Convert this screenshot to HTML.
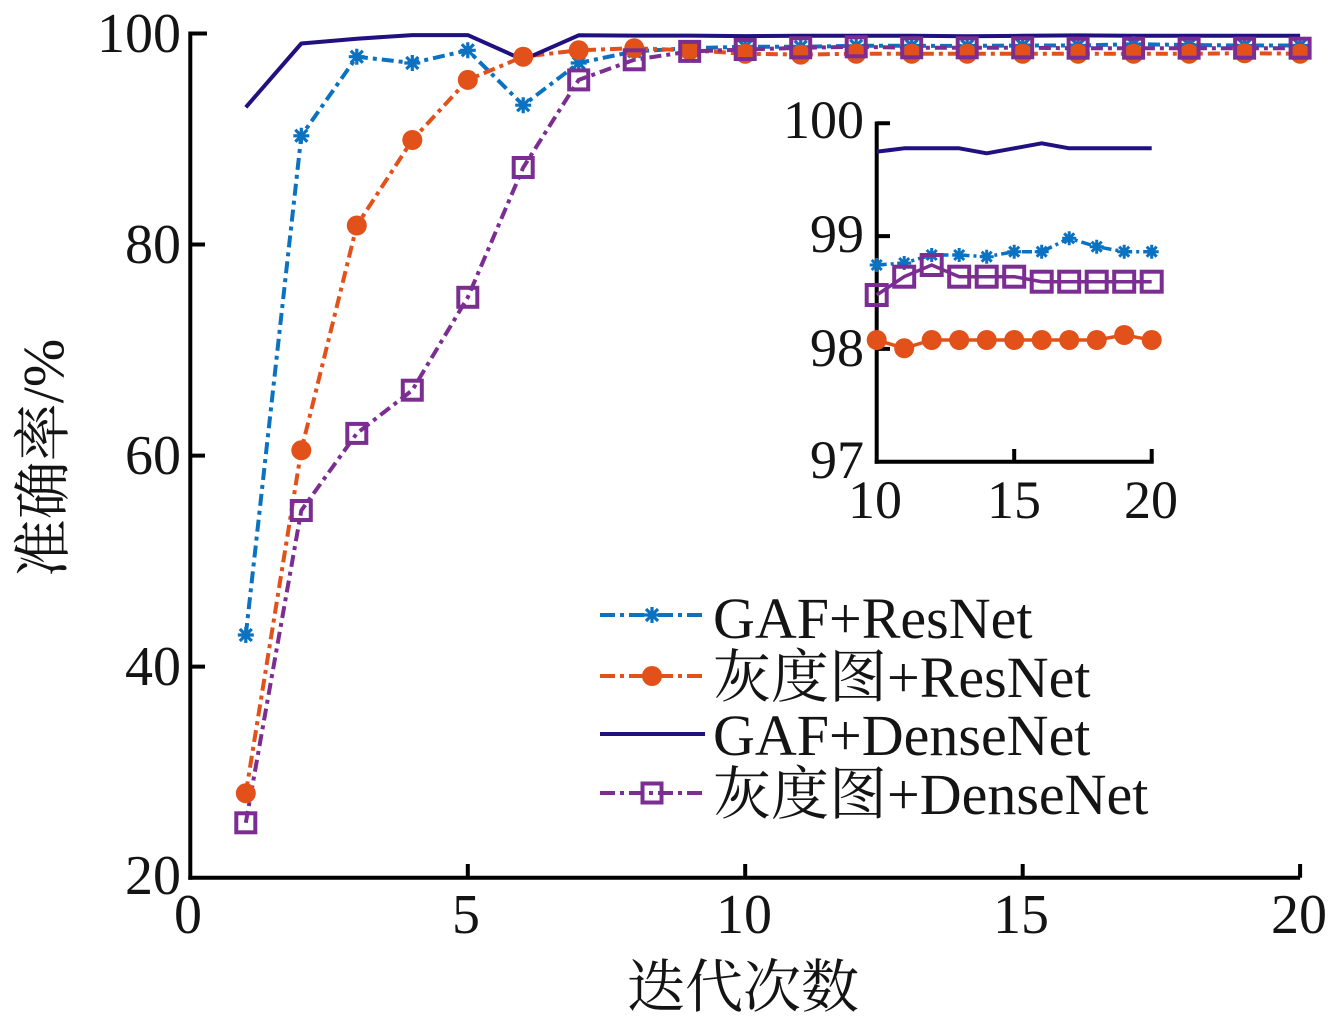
<!DOCTYPE html>
<html>
<head>
<meta charset="utf-8">
<style>
html,body{margin:0;padding:0;background:#fff;}
svg{display:block;}
.t{font-family:"Liberation Serif","Noto Serif CJK SC",serif;fill:#141414;}
</style>
</head>
<body>
<svg width="1339" height="1028" viewBox="0 0 1339 1028" xmlns="http://www.w3.org/2000/svg">
<defs>
  <g id="mb"><path d="M-8 0H8M0 -8V8M-6 -6L6 6M-6 6L6 -6" stroke="#0a72c0" stroke-width="3.2" fill="none"/></g>
  <g id="mbs"><path d="M-7 0H7M0 -7V7M-5 -5L5 5M-5 5L5 -5" stroke="#0a72c0" stroke-width="3" fill="none"/></g>
  <circle id="mo" r="10" fill="#e25119"/>
  <rect id="mp" x="-9.5" y="-9.5" width="19" height="19" fill="none" stroke="#7b2d92" stroke-width="4"/>
  <rect id="mps" x="-10" y="-10" width="20" height="20" fill="none" stroke="#7b2d92" stroke-width="4"/>
</defs>

<!-- Main axes -->
<g stroke="#000" stroke-width="4" fill="none">
  <path d="M190.3 31.5V879.7"/>
  <path d="M188.3 877.7H1300.1"/>
  <path d="M190.3 33.5H207M190.3 244.5H205M190.3 455.6H205M190.3 666.6H205"/>
  <path d="M467.8 877.7V864M745.2 877.7V864M1022.7 877.7V864M1300.1 877.7V864"/>
</g>

<!-- Main tick labels -->
<g class="t" font-size="56" text-anchor="end">
  <text x="181" y="52">100</text>
  <text x="181" y="263">80</text>
  <text x="181" y="474">60</text>
  <text x="181" y="685">40</text>
  <text x="181" y="894">20</text>
</g>
<g class="t" font-size="56" text-anchor="middle">
  <text x="188" y="933">0</text>
  <text x="466" y="933">5</text>
  <text x="744" y="933">10</text>
  <text x="1021" y="933">15</text>
  <text x="1299" y="933">20</text>
</g>

<!-- Axis labels -->
<text class="t" font-size="58" text-anchor="middle" x="743" y="1007">迭代次数</text>
<text class="t" font-size="58" text-anchor="middle" transform="translate(63 458) rotate(-90)">准确率/%</text>

<!-- Main series -->
<polyline fill="none" stroke="#0a72c0" stroke-width="4" stroke-dasharray="12 5 4 5" points="245.8,635.0 301.3,135.8 356.8,56.7 412.3,63.0 467.8,50.3 523.2,105.2 578.7,63.0 634.2,51.4 689.7,48.2 745.2,46.8 800.7,46.8 856.2,45.8 911.7,45.8 967.2,45.9 1022.7,45.5 1078.1,45.5 1133.6,44.2 1189.1,45.0 1244.6,45.5 1300.1,45.5"/>
<polyline fill="none" stroke="#e25119" stroke-width="4" stroke-dasharray="12 5 4 5" points="245.8,793.3 301.3,450.3 356.8,225.5 412.3,140.0 467.8,79.9 523.2,56.7 578.7,50.3 634.2,48.2 689.7,50.3 745.2,53.7 800.7,54.6 856.2,53.7 911.7,53.7 967.2,53.7 1022.7,53.7 1078.1,53.7 1133.6,53.7 1189.1,53.7 1244.6,53.3 1300.1,53.7"/>
<polyline fill="none" stroke="#201080" stroke-width="4" stroke-linejoin="round" points="245.8,107.3 301.3,43.5 356.8,38.7 412.3,35.1 467.8,35.1 523.2,59.8 578.7,35.3 634.2,35.6 689.7,35.6 745.2,36.1 800.7,35.8 856.2,35.8 911.7,35.8 967.2,36.3 1022.7,35.8 1078.1,35.4 1133.6,35.8 1189.1,35.8 1244.6,35.8 1300.1,35.8"/>
<polyline fill="none" stroke="#7b2d92" stroke-width="4" stroke-dasharray="12 5 4 5" points="245.8,822.8 301.3,510.5 356.8,433.4 412.3,390.2 467.8,297.3 523.2,167.5 578.7,79.9 634.2,59.8 689.7,51.4 745.2,49.5 800.7,47.8 856.2,46.8 911.7,47.8 967.2,47.8 1022.7,47.8 1078.1,48.2 1133.6,48.2 1189.1,48.2 1244.6,48.2 1300.1,48.2"/>

<!-- Main markers: blue -->
<g>
<use href="#mb" x="245.8" y="635.0"/><use href="#mb" x="301.3" y="135.8"/><use href="#mb" x="356.8" y="56.7"/><use href="#mb" x="412.3" y="63.0"/><use href="#mb" x="467.8" y="50.3"/><use href="#mb" x="523.2" y="105.2"/><use href="#mb" x="578.7" y="63.0"/><use href="#mb" x="634.2" y="51.4"/><use href="#mb" x="689.7" y="48.2"/><use href="#mb" x="745.2" y="46.8"/><use href="#mb" x="800.7" y="46.8"/><use href="#mb" x="856.2" y="45.8"/><use href="#mb" x="911.7" y="45.8"/><use href="#mb" x="967.2" y="45.9"/><use href="#mb" x="1022.7" y="45.5"/><use href="#mb" x="1078.1" y="45.5"/><use href="#mb" x="1133.6" y="44.2"/><use href="#mb" x="1189.1" y="45.0"/><use href="#mb" x="1244.6" y="45.5"/><use href="#mb" x="1300.1" y="45.5"/>
</g>
<!-- orange -->
<g>
<use href="#mo" x="245.8" y="793.3"/><use href="#mo" x="301.3" y="450.3"/><use href="#mo" x="356.8" y="225.5"/><use href="#mo" x="412.3" y="140.0"/><use href="#mo" x="467.8" y="79.9"/><use href="#mo" x="523.2" y="56.7"/><use href="#mo" x="578.7" y="50.3"/><use href="#mo" x="634.2" y="48.2"/><use href="#mo" x="689.7" y="50.3"/><use href="#mo" x="745.2" y="53.7"/><use href="#mo" x="800.7" y="54.6"/><use href="#mo" x="856.2" y="53.7"/><use href="#mo" x="911.7" y="53.7"/><use href="#mo" x="967.2" y="53.7"/><use href="#mo" x="1022.7" y="53.7"/><use href="#mo" x="1078.1" y="53.7"/><use href="#mo" x="1133.6" y="53.7"/><use href="#mo" x="1189.1" y="53.7"/><use href="#mo" x="1244.6" y="53.3"/><use href="#mo" x="1300.1" y="53.7"/>
</g>
<!-- purple -->
<g>
<use href="#mp" x="245.8" y="822.8"/><use href="#mp" x="301.3" y="510.5"/><use href="#mp" x="356.8" y="433.4"/><use href="#mp" x="412.3" y="390.2"/><use href="#mp" x="467.8" y="297.3"/><use href="#mp" x="523.2" y="167.5"/><use href="#mp" x="578.7" y="79.9"/><use href="#mp" x="634.2" y="59.8"/><use href="#mp" x="689.7" y="51.4"/><use href="#mp" x="745.2" y="49.5"/><use href="#mp" x="800.7" y="47.8"/><use href="#mp" x="856.2" y="46.8"/><use href="#mp" x="911.7" y="47.8"/><use href="#mp" x="967.2" y="47.8"/><use href="#mp" x="1022.7" y="47.8"/><use href="#mp" x="1078.1" y="48.2"/><use href="#mp" x="1133.6" y="48.2"/><use href="#mp" x="1189.1" y="48.2"/><use href="#mp" x="1244.6" y="48.2"/><use href="#mp" x="1300.1" y="48.2"/>
</g>

<!-- Inset axes -->
<g stroke="#000" stroke-width="4" fill="none">
  <path d="M876.7 121.5V463.7"/>
  <path d="M874.7 461.7H1153.7"/>
  <path d="M876.7 123.3H890M876.7 236.1H890M876.7 348.9H890"/>
  <path d="M1014.2 461.7V449M1151.7 461.7V449"/>
</g>
<g class="t" font-size="54" text-anchor="end">
  <text x="864" y="138">100</text>
  <text x="864" y="252">99</text>
  <text x="864" y="366">98</text>
  <text x="864" y="478">97</text>
</g>
<g class="t" font-size="54" text-anchor="middle">
  <text x="875" y="518">10</text>
  <text x="1014" y="518">15</text>
  <text x="1151" y="518">20</text>
</g>

<!-- Inset series -->
<polyline fill="none" stroke="#201080" stroke-width="4" stroke-linejoin="round" points="876.7,151.7 904.2,148.3 931.7,148.3 959.2,148.3 986.7,153.3 1014.2,148.3 1041.7,143.3 1069.2,148.3 1096.7,148.3 1124.2,148.3 1151.7,148.3"/>
<polyline fill="none" stroke="#0a72c0" stroke-width="3.5" stroke-dasharray="10 4 3 4" points="876.7,265 904.2,263 931.7,255 959.2,255 986.7,256.7 1014.2,251.7 1041.7,251.7 1069.2,238.3 1096.7,246.7 1124.2,251.7 1151.7,251.7"/>
<polyline fill="none" stroke="#e25119" stroke-width="3.5" points="876.7,340 904.2,348.3 931.7,340 959.2,340 986.7,340 1014.2,340 1041.7,340 1069.2,340 1096.7,340 1124.2,335 1151.7,340"/>
<polyline fill="none" stroke="#7b2d92" stroke-width="3.5" points="876.7,295 904.2,276.7 931.7,265 959.2,276.7 986.7,276.7 1014.2,276.7 1041.7,281.7 1069.2,281.7 1096.7,281.7 1124.2,281.7 1151.7,281.7"/>
<g>
<use href="#mbs" x="876.7" y="265"/><use href="#mbs" x="904.2" y="263"/><use href="#mbs" x="931.7" y="255"/><use href="#mbs" x="959.2" y="255"/><use href="#mbs" x="986.7" y="256.7"/><use href="#mbs" x="1014.2" y="251.7"/><use href="#mbs" x="1041.7" y="251.7"/><use href="#mbs" x="1069.2" y="238.3"/><use href="#mbs" x="1096.7" y="246.7"/><use href="#mbs" x="1124.2" y="251.7"/><use href="#mbs" x="1151.7" y="251.7"/>
</g>
<g>
<use href="#mo" x="876.7" y="340"/><use href="#mo" x="904.2" y="348.3"/><use href="#mo" x="931.7" y="340"/><use href="#mo" x="959.2" y="340"/><use href="#mo" x="986.7" y="340"/><use href="#mo" x="1014.2" y="340"/><use href="#mo" x="1041.7" y="340"/><use href="#mo" x="1069.2" y="340"/><use href="#mo" x="1096.7" y="340"/><use href="#mo" x="1124.2" y="335"/><use href="#mo" x="1151.7" y="340"/>
</g>
<g>
<use href="#mps" x="876.7" y="295"/><use href="#mps" x="904.2" y="276.7"/><use href="#mps" x="931.7" y="265"/><use href="#mps" x="959.2" y="276.7"/><use href="#mps" x="986.7" y="276.7"/><use href="#mps" x="1014.2" y="276.7"/><use href="#mps" x="1041.7" y="281.7"/><use href="#mps" x="1069.2" y="281.7"/><use href="#mps" x="1096.7" y="281.7"/><use href="#mps" x="1124.2" y="281.7"/><use href="#mps" x="1151.7" y="281.7"/>
</g>

<!-- Legend -->
<path d="M600 615H705" stroke="#0a72c0" stroke-width="4" stroke-dasharray="15 5 4 5" fill="none"/>
<use href="#mb" x="652" y="615"/>
<path d="M600 676H705" stroke="#e25119" stroke-width="4" stroke-dasharray="15 5 4 5" fill="none"/>
<use href="#mo" x="652" y="676"/>
<path d="M600 734H705" stroke="#201080" stroke-width="4" fill="none"/>
<path d="M600 793H705" stroke="#7b2d92" stroke-width="4" stroke-dasharray="15 5 4 5" fill="none"/>
<use href="#mp" x="652" y="793"/>
<g class="t" font-size="58">
  <text x="713" y="638">GAF+ResNet</text>
  <text x="713" y="697">灰度图+ResNet</text>
  <text x="713" y="755">GAF+DenseNet</text>
  <text x="713" y="814">灰度图+DenseNet</text>
</g>
</svg>
</body>
</html>
